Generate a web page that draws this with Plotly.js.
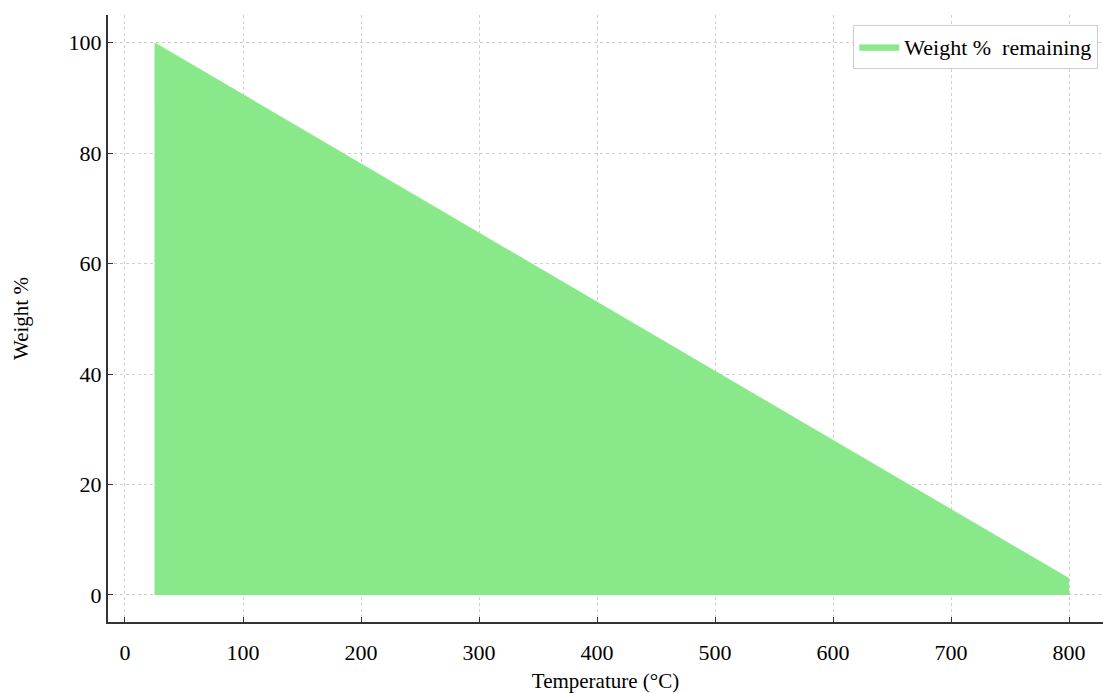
<!DOCTYPE html>
<html>
<head>
<meta charset="utf-8">
<script src="https://cdn.plot.ly/plotly-3.0.1.min.js"></script>
<style>html,body{margin:0;padding:0;background:#fff;}#chart{width:1103px;height:693px;}</style>
</head>
<body>
<div id="chart"></div>
<script>
const temperatures = [25, 800];
const weightPercent = [100, 3];
const seriesName = "Weight %  remaining";
const xTicks = [0, 100, 200, 300, 400, 500, 600, 700, 800];
const yTicks = [0, 20, 40, 60, 80, 100];

const font = "Liberation Serif, Times New Roman, serif";
const trace = {
  x: temperatures,
  y: weightPercent,
  type: "scatter",
  mode: "lines",
  fill: "tozeroy",
  fillcolor: "rgba(137,232,137,1)",
  line: {color: "rgba(137,232,137,1)", width: 0.5},
  name: seriesName,
  showlegend: true
};
const layout = {
  width: 1103, height: 693,
  margin: {l: 108, r: 0, t: 15, b: 71},
  paper_bgcolor: "#fff", plot_bgcolor: "#fff",
  font: {family: font, color: "#000", size: 22},
  xaxis: {
    range: [-14.4, 828.8],
    tickvals: xTicks, ticktext: xTicks.map(String),
    showline: true, linecolor: "#333", linewidth: 2,
    ticks: "inside", ticklen: 5, tickcolor: "#333",
    showgrid: true, gridcolor: "#cfcfcf", griddash: "dot", gridwidth: 1,
    zeroline: false,
    ticklabelstandoff: 10,
    tickfont: {family: font, size: 22},
    title: {text: "Temperature (°C)", font: {family: font, size: 21}, standoff: 12},
    automargin: false
  },
  yaxis: {
    range: [-4.9, 105],
    tickvals: yTicks, ticktext: yTicks.map(String),
    showline: true, linecolor: "#333", linewidth: 2,
    ticks: "inside", ticklen: 5, tickcolor: "#333",
    showgrid: true, gridcolor: "#cfcfcf", griddash: "dot", gridwidth: 1,
    zeroline: false,
    tickfont: {family: font, size: 22},
    title: {text: "Weight %", font: {family: font, size: 21}, standoff: 34},
    automargin: false
  },
  legend: {
    x: 0.749, xanchor: "left", y: 0.9835, yanchor: "top",
    bgcolor: "#fff", bordercolor: "#cccccc", borderwidth: 1,
    itemwidth: 40,
    font: {family: font, size: 22}
  },
  showlegend: true
};
Plotly.newPlot("chart", [trace], layout, {displayModeBar: false, staticPlot: true});
</script>
</body>
</html>
